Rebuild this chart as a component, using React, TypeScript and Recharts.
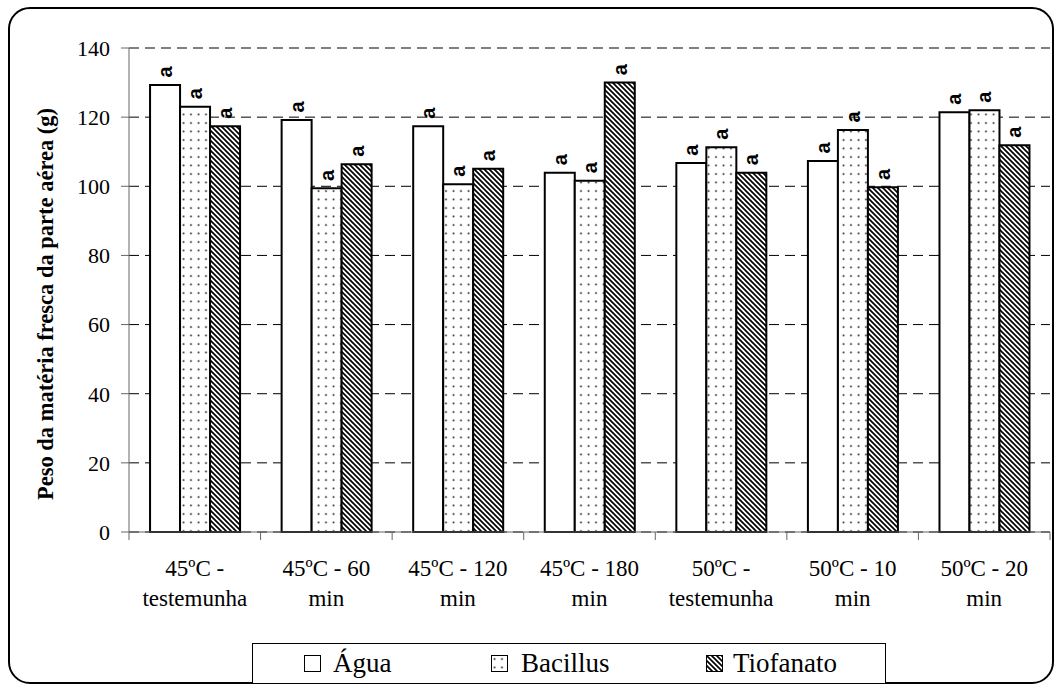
import React from 'react';
import { BarChart, Bar, XAxis, YAxis, CartesianGrid, LabelList } from 'recharts';

// Treatment categories (line break = second line of the tick label)
const categories = [
  '45ºC -\ntestemunha',
  '45ºC - 60\nmin',
  '45ºC - 120\nmin',
  '45ºC - 180\nmin',
  '50ºC -\ntestemunha',
  '50ºC - 10\nmin',
  '50ºC - 20\nmin',
];

// Fresh shoot weight (g) per treatment
const agua = [129.3, 119.2, 117.4, 103.9, 106.7, 107.3, 121.4];
const bacillus = [123.0, 99.4, 100.6, 101.6, 111.3, 116.3, 122.0];
const tiofanato = [117.4, 106.4, 105.1, 130.0, 103.9, 99.7, 111.9];

// Statistical grouping letters shown above each bar
const aguaLetters = ['a', 'a', 'a', 'a', 'a', 'a', 'a'];
const bacillusLetters = ['a', 'a', 'a', 'a', 'a', 'a', 'a'];
const tiofanatoLetters = ['a', 'a', 'a', 'a', 'a', 'a', 'a'];

const yTicks = [0, 20, 40, 60, 80, 100, 120, 140];

const seriesNames = ['Água', 'Bacillus', 'Tiofanato'];

const data = categories.map((c, i) => ({
  name: c,
  agua: agua[i],
  bacillus: bacillus[i],
  tiofanato: tiofanato[i],
  aguaL: aguaLetters[i],
  bacillusL: bacillusLetters[i],
  tiofanatoL: tiofanatoLetters[i],
}));

const W = 1061;
const H = 688;
const Y_AXIS_W = 129;
const X_AXIS_H = 30;
const MARGIN = { top: 48, right: 11, bottom: 126, left: 0 };
const PLOT_BOTTOM = H - MARGIN.bottom - X_AXIS_H;
const BAND = (W - MARGIN.left - MARGIN.right - Y_AXIS_W) / categories.length;

const SERIF = '"Liberation Serif", "Times New Roman", serif';
const SANS = '"Liberation Sans", Arial, sans-serif';
const AXIS_GREY = '#666';

const XTick = (props: any) => {
  const { x, payload, index } = props;
  const lines = String(payload.value).split('\n');
  return (
    <g>
      <line x1={x - BAND / 2} x2={x - BAND / 2} y1={PLOT_BOTTOM} y2={PLOT_BOTTOM + 8} stroke={AXIS_GREY} strokeWidth={1} />
      {index === categories.length - 1 && (
        <line x1={x + BAND / 2} x2={x + BAND / 2} y1={PLOT_BOTTOM} y2={PLOT_BOTTOM + 8} stroke={AXIS_GREY} strokeWidth={1} />
      )}
      {lines.map((l, i) => (
        <text key={i} x={x} y={PLOT_BOTTOM + 44 + i * 30} textAnchor="middle" fontFamily={SERIF} fontSize={23} fill="#000">
          {l}
        </text>
      ))}
    </g>
  );
};

// Grouping letter, turned to read bottom-to-top, centred above the bar
const RotLetter = (props: any) => {
  const { x, y, width, value } = props;
  const cx = Number(x) + Number(width) / 2;
  const cy = Number(y) - 13;
  return (
    <g transform={`translate(${cx},${cy}) rotate(-90)`}>
      <text
        x={0}
        y={0}
        textAnchor="middle"
        dominantBaseline="central"
        fontFamily={SANS}
        fontWeight="bold"
        fontSize={20}
        fill="#000"
      >
        {value}
      </text>
    </g>
  );
};

const YTitle = () => (
  <text
    x={53}
    y={304}
    transform="rotate(-90 53 304)"
    textAnchor="middle"
    fontFamily={SERIF}
    fontWeight="bold"
    fontSize={22.5}
    fill="#000"
  >
    Peso da matéria fresca da parte aérea (g)
  </text>
);

const Patterns = ({ prefix }: { prefix: string }) => (
  <defs>
    <pattern id={`${prefix}dots`} patternUnits="userSpaceOnUse" width={7.5} height={8.5}>
      <rect width={7.5} height={8.5} fill="#fff" />
      <circle cx={3.5} cy={4} r={1} fill="#222" />
    </pattern>
    <pattern id={`${prefix}hatch`} patternUnits="userSpaceOnUse" width={5} height={5}>
      <rect width={5} height={5} fill="#fff" />
      <path d="M-1,4 l2,2 M0,0 l5,5 M4,-1 l2,2" stroke="#000" strokeWidth={1.7} />
    </pattern>
  </defs>
);

const LegendIcon = ({ kind }: { kind: number }) => (
  <svg width={17} height={17} style={{ display: 'block' }}>
    <Patterns prefix="lg" />
    <rect
      x={0.5}
      y={0.5}
      width={16}
      height={16}
      fill={kind === 0 ? '#fff' : kind === 1 ? 'url(#lgdots)' : 'url(#lghatch)'}
      stroke="#000"
      strokeWidth={1}
    />
  </svg>
);

const legendItems = [
  { icon: 51, text: 80 },
  { icon: 238, text: 268 },
  { icon: 453, text: 480 },
];

export default function App() {
  return (
    <div style={{ position: 'absolute', left: 0, top: 0, width: W, height: H, background: '#fff' }}>
      <div
        style={{
          position: 'absolute',
          left: 8,
          top: 7,
          width: 1046,
          height: 677,
          boxSizing: 'border-box',
          border: '2px solid #000',
          borderRadius: 22,
        }}
      />
      <div style={{ position: 'absolute', left: 0, top: 0 }}>
        <BarChart width={W} height={H} data={data} margin={MARGIN} barCategoryGap="16%" barGap={0}>
          <Patterns prefix="bar" />
          <CartesianGrid horizontal vertical={false} stroke="#000" strokeDasharray="10 6" />
          <XAxis
            dataKey="name"
            height={X_AXIS_H}
            axisLine={{ stroke: AXIS_GREY }}
            tickLine={false}
            interval={0}
            tick={<XTick />}
          />
          <YAxis
            width={Y_AXIS_W}
            domain={[0, 140]}
            ticks={yTicks}
            interval={0}
            tickSize={8}
            tickMargin={11}
            axisLine={{ stroke: AXIS_GREY }}
            tickLine={{ stroke: AXIS_GREY }}
            tick={{ fontFamily: SERIF, fontSize: 22, fill: '#000' }}
            label={<YTitle />}
          />
          <Bar dataKey="agua" name={seriesNames[0]} fill="#fff" stroke="#000" strokeWidth={2} isAnimationActive={false}>
            <LabelList dataKey="aguaL" content={<RotLetter />} />
          </Bar>
          <Bar dataKey="bacillus" name={seriesNames[1]} fill="url(#bardots)" stroke="#000" strokeWidth={2} isAnimationActive={false}>
            <LabelList dataKey="bacillusL" content={<RotLetter />} />
          </Bar>
          <Bar dataKey="tiofanato" name={seriesNames[2]} fill="url(#barhatch)" stroke="#000" strokeWidth={2} isAnimationActive={false}>
            <LabelList dataKey="tiofanatoL" content={<RotLetter />} />
          </Bar>
        </BarChart>
      </div>
      <div
        style={{
          position: 'absolute',
          left: 252,
          top: 643,
          width: 634,
          height: 41,
          boxSizing: 'border-box',
          border: '1px solid #000',
          background: '#fff',
        }}
      >
        {legendItems.map((it, i) => (
          <React.Fragment key={i}>
            <div style={{ position: 'absolute', left: it.icon, top: 11 }}>
              <LegendIcon kind={i} />
            </div>
            <div
              style={{
                position: 'absolute',
                left: it.text,
                top: 0,
                height: 39,
                lineHeight: '39px',
                fontFamily: SERIF,
                fontSize: 27,
                color: '#000',
                whiteSpace: 'nowrap',
              }}
            >
              {seriesNames[i]}
            </div>
          </React.Fragment>
        ))}
      </div>
    </div>
  );
}
